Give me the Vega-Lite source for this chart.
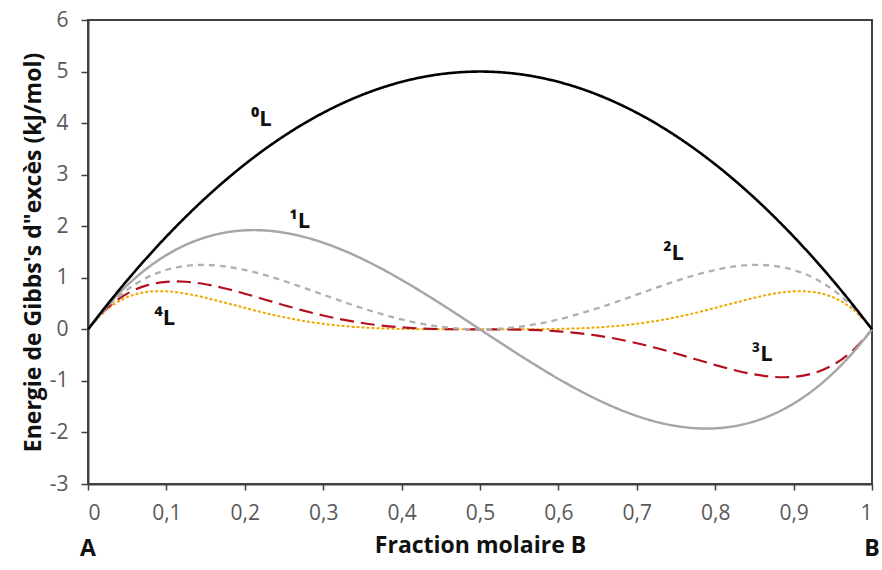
{
  "$schema": "https://vega.github.io/schema/vega-lite/v6.json",
  "width": 784,
  "height": 464,
  "autosize": "none",
  "padding": {"left": 88, "top": 20, "right": 10, "bottom": 86},
  "background": "white",
  "config": {
    "font": "Open Sans",
    "view": {"stroke": "#404040", "strokeWidth": 2},
    "axis": {"grid": false, "domainColor": "#404040", "domainWidth": 2, "tickColor": "#404040", "tickWidth": 1.5,
             "labelColor": "#595959", "labelFont": "Open Sans", "labelFontSize": 20,
             "titleFont": "Open Sans", "titleFontWeight": "bold", "titleColor": "#111111", "titleFontSize": 23}
  },
  "datasets": {
    "curves": [
      {"x": 0, "L0": 0, "L1": 0, "L2": 0, "L3": 0, "L4": 0},
      {"x": 0.025, "L0": 0.4875, "L1": 0.4631, "L2": 0.44, "L3": 0.418, "L4": 0.3971},
      {"x": 0.05, "L0": 0.95, "L1": 0.855, "L2": 0.7695, "L3": 0.6926, "L4": 0.6233},
      {"x": 0.075, "L0": 1.3875, "L1": 1.1794, "L2": 1.0025, "L3": 0.8521, "L4": 0.7243},
      {"x": 0.1, "L0": 1.8, "L1": 1.44, "L2": 1.152, "L3": 0.9216, "L4": 0.7373},
      {"x": 0.125, "L0": 2.1875, "L1": 1.6406, "L2": 1.2305, "L3": 0.9229, "L4": 0.6921},
      {"x": 0.15, "L0": 2.55, "L1": 1.785, "L2": 1.2495, "L3": 0.8747, "L4": 0.6123},
      {"x": 0.175, "L0": 2.8875, "L1": 1.8769, "L2": 1.22, "L3": 0.793, "L4": 0.5154},
      {"x": 0.2, "L0": 3.2, "L1": 1.92, "L2": 1.152, "L3": 0.6912, "L4": 0.4147},
      {"x": 0.225, "L0": 3.4875, "L1": 1.9181, "L2": 1.055, "L3": 0.5802, "L4": 0.3191},
      {"x": 0.25, "L0": 3.75, "L1": 1.875, "L2": 0.9375, "L3": 0.4688, "L4": 0.2344},
      {"x": 0.275, "L0": 3.9875, "L1": 1.7944, "L2": 0.8075, "L3": 0.3634, "L4": 0.1635},
      {"x": 0.3, "L0": 4.2, "L1": 1.68, "L2": 0.672, "L3": 0.2688, "L4": 0.1075},
      {"x": 0.325, "L0": 4.3875, "L1": 1.5356, "L2": 0.5375, "L3": 0.1881, "L4": 0.0658},
      {"x": 0.35, "L0": 4.55, "L1": 1.365, "L2": 0.4095, "L3": 0.1229, "L4": 0.0369},
      {"x": 0.375, "L0": 4.6875, "L1": 1.1719, "L2": 0.293, "L3": 0.0732, "L4": 0.0183},
      {"x": 0.4, "L0": 4.8, "L1": 0.96, "L2": 0.192, "L3": 0.0384, "L4": 0.0077},
      {"x": 0.425, "L0": 4.8875, "L1": 0.7331, "L2": 0.11, "L3": 0.0165, "L4": 0.0025},
      {"x": 0.45, "L0": 4.95, "L1": 0.495, "L2": 0.0495, "L3": 0.005, "L4": 0.0005},
      {"x": 0.475, "L0": 4.9875, "L1": 0.2494, "L2": 0.0125, "L3": 0.0006, "L4": 0},
      {"x": 0.5, "L0": 5, "L1": 0, "L2": 0, "L3": 0, "L4": 0},
      {"x": 0.525, "L0": 4.9875, "L1": -0.2494, "L2": 0.0125, "L3": -0.0006, "L4": 0},
      {"x": 0.55, "L0": 4.95, "L1": -0.495, "L2": 0.0495, "L3": -0.005, "L4": 0.0005},
      {"x": 0.575, "L0": 4.8875, "L1": -0.7331, "L2": 0.11, "L3": -0.0165, "L4": 0.0025},
      {"x": 0.6, "L0": 4.8, "L1": -0.96, "L2": 0.192, "L3": -0.0384, "L4": 0.0077},
      {"x": 0.625, "L0": 4.6875, "L1": -1.1719, "L2": 0.293, "L3": -0.0732, "L4": 0.0183},
      {"x": 0.65, "L0": 4.55, "L1": -1.365, "L2": 0.4095, "L3": -0.1229, "L4": 0.0369},
      {"x": 0.675, "L0": 4.3875, "L1": -1.5356, "L2": 0.5375, "L3": -0.1881, "L4": 0.0658},
      {"x": 0.7, "L0": 4.2, "L1": -1.68, "L2": 0.672, "L3": -0.2688, "L4": 0.1075},
      {"x": 0.725, "L0": 3.9875, "L1": -1.7944, "L2": 0.8075, "L3": -0.3634, "L4": 0.1635},
      {"x": 0.75, "L0": 3.75, "L1": -1.875, "L2": 0.9375, "L3": -0.4688, "L4": 0.2344},
      {"x": 0.775, "L0": 3.4875, "L1": -1.9181, "L2": 1.055, "L3": -0.5802, "L4": 0.3191},
      {"x": 0.8, "L0": 3.2, "L1": -1.92, "L2": 1.152, "L3": -0.6912, "L4": 0.4147},
      {"x": 0.825, "L0": 2.8875, "L1": -1.8769, "L2": 1.22, "L3": -0.793, "L4": 0.5154},
      {"x": 0.85, "L0": 2.55, "L1": -1.785, "L2": 1.2495, "L3": -0.8747, "L4": 0.6123},
      {"x": 0.875, "L0": 2.1875, "L1": -1.6406, "L2": 1.2305, "L3": -0.9229, "L4": 0.6921},
      {"x": 0.9, "L0": 1.8, "L1": -1.44, "L2": 1.152, "L3": -0.9216, "L4": 0.7373},
      {"x": 0.925, "L0": 1.3875, "L1": -1.1794, "L2": 1.0025, "L3": -0.8521, "L4": 0.7243},
      {"x": 0.95, "L0": 0.95, "L1": -0.855, "L2": 0.7695, "L3": -0.6926, "L4": 0.6233},
      {"x": 0.975, "L0": 0.4875, "L1": -0.4631, "L2": 0.44, "L3": -0.418, "L4": 0.3971},
      {"x": 1, "L0": 0, "L1": 0, "L2": 0, "L3": 0, "L4": 0}
    ],
    "labels": [
      {"x": 0.221, "y": 4.08, "t": "⁰L"},
      {"x": 0.27, "y": 2.1, "t": "¹L"},
      {"x": 0.747, "y": 1.48, "t": "²L"},
      {"x": 0.86, "y": -0.47, "t": "³L"},
      {"x": 0.098, "y": 0.22, "t": "⁴L"}
    ],
    "ends": [
      {"x": 0, "y": -4.27, "t": "A"},
      {"x": 1, "y": -4.27, "t": "B"}
    ]
  },
  "layer": [
    {
      "data": {"name": "curves"},
      "transform": [{"fold": ["L4", "L3", "L2", "L1", "L0"], "as": ["serie", "g"]}],
      "mark": {"type": "line", "interpolate": "catmull-rom", "clip": false},
      "encoding": {
        "x": {"field": "x", "type": "quantitative",
              "scale": {"domain": [0, 1], "nice": false},
              "axis": {"values": [0, 0.1, 0.2, 0.3, 0.4, 0.5, 0.6, 0.7, 0.8, 0.9, 1],
                       "labelExpr": "replace(format(datum.value, '.1~f'), '.', ',')",
                       "labelFontSize": 21, "labelColor": "#595959",
                       "tickSize": 6, "labelPadding": 12, "titlePadding": 11,
                       "title": "Fraction molaire B"}},
        "y": {"field": "g", "type": "quantitative",
              "scale": {"domain": [-3, 6], "nice": false},
              "axis": {"values": [-3, -2, -1, 0, 1, 2, 3, 4, 5, 6],
                       "labelExpr": "toString(datum.value)",
                       "labelFontSize": 21, "labelColor": "#595959",
                       "tickSize": 7, "labelPadding": 13, "titlePadding": 4,
                       "title": "Energie de Gibbs's d\"excès (kJ/mol)"}},
        "color": {"field": "serie", "type": "nominal", "legend": null,
                  "scale": {"domain": ["L0", "L1", "L2", "L3", "L4"],
                            "range": ["#000000", "#a6a6a6", "#b0b0b0", "#b3101f", "#f0a800"]}},
        "strokeDash": {"field": "serie", "type": "nominal", "legend": null,
                       "scale": {"domain": ["L0", "L1", "L2", "L3", "L4"],
                                 "range": [[1, 0], [1, 0], [6, 5], [14, 7], [3, 2]]}},
        "strokeWidth": {"field": "serie", "type": "nominal", "legend": null,
                        "scale": {"domain": ["L0", "L1", "L2", "L3", "L4"],
                                  "range": [2.6, 2, 2, 3, 2.5]}}
      }
    },
    {
      "data": {"name": "labels"},
      "mark": {"type": "text", "fontSize": 22, "fontWeight": "bold", "color": "#111111", "font": "Open Sans"},
      "encoding": {
        "x": {"field": "x", "type": "quantitative"},
        "y": {"field": "y", "type": "quantitative"},
        "text": {"field": "t"}
      }
    },
    {
      "data": {"name": "ends"},
      "mark": {"type": "text", "fontSize": 23, "fontWeight": "bold", "color": "#111111", "font": "Open Sans"},
      "encoding": {
        "x": {"field": "x", "type": "quantitative"},
        "y": {"field": "y", "type": "quantitative"},
        "text": {"field": "t"}
      }
    }
  ]
}
